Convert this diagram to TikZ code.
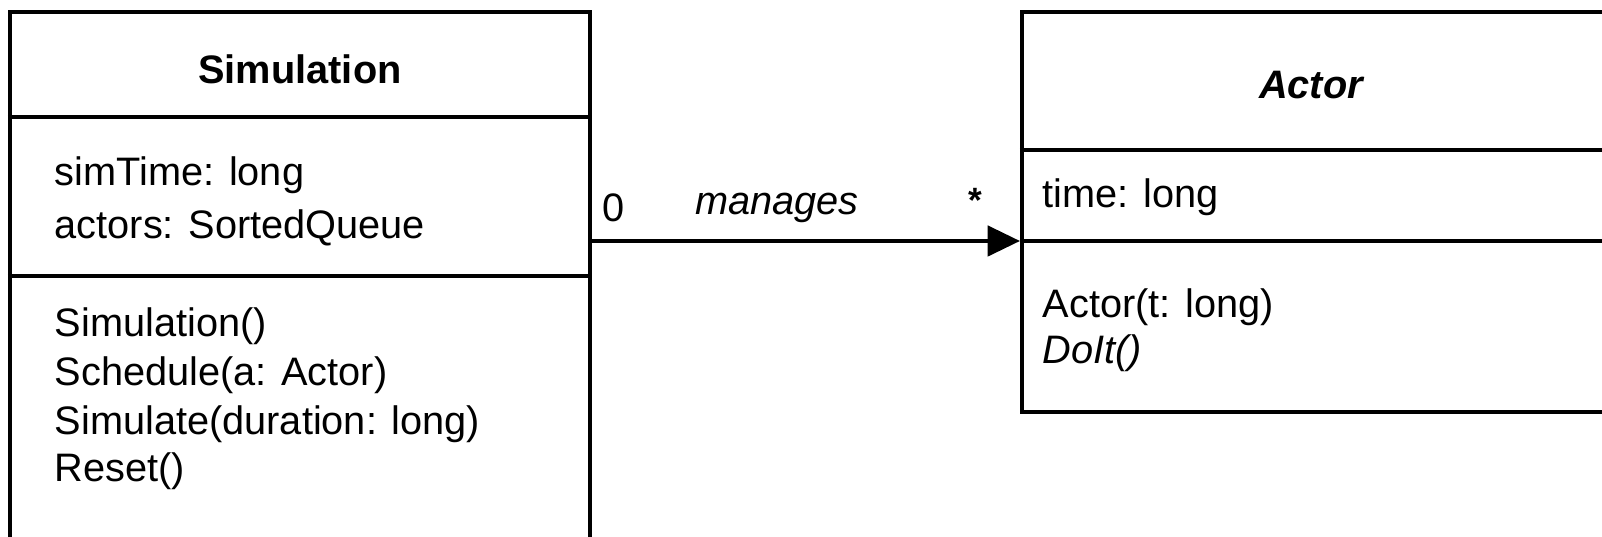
\documentclass[tikz,border=0pt]{standalone}
\usepackage{fontspec}
\setmainfont{Liberation Sans}
\usetikzlibrary{arrows.meta,fit}
\newcommand{\umlfont}{\fontsize{11.3}{13}\selectfont}
\begin{document}
\begin{tikzpicture}[x=0.01cm,y=-0.01cm,
  classbox/.style={draw, line width=1.15pt, inner sep=0pt},
  divider/.style={line width=1.15pt},
  member/.style={anchor=base west, inner sep=0pt, font=\umlfont},
  title/.style={anchor=base, inner sep=0pt, font=\umlfont\bfseries},
  assoc/.style={line width=1.15pt, -{Triangle[length=9.2pt,width=8.6pt]}},
  rolelabel/.style={anchor=base, inner sep=0pt, font=\umlfont}]
\useasboundingbox (0,0) rectangle (1602,537);
\clip (0,0) rectangle (1602,537);
\fill[white] (0,0) rectangle (1602,537);

% Simulation class
\coordinate (simNW) at (10,12);
\coordinate (simSE) at (590,620);
\node[classbox, fit=(simNW)(simSE)] (sim) {};
\coordinate (simD1) at (0,117);
\coordinate (simD2) at (0,276);
\draw[divider] (sim.west |- simD1) -- (sim.east |- simD1);
\draw[divider] (sim.west |- simD2) -- (sim.east |- simD2);
\node[title] (simTitle) at (300,84) {Simulation};
\node[member] (simA1) at (54,186) {simTime: long};
\node[member] (simA2) at (54,239) {actors: SortedQueue};
\node[member] (simM1) at (54,337) {Simulation()};
\node[member] (simM2) at (54,386) {Schedule(a: Actor)};
\node[member] (simM3) at (54,435) {Simulate(duration: long)};
\node[member] (simM4) at (54,482) {Reset()};

% Actor class
\coordinate (actNW) at (1022,12);
\coordinate (actSE) at (1700,412);
\node[classbox, fit=(actNW)(actSE)] (actor) {};
\coordinate (actD1) at (0,150);
\coordinate (actD2) at (0,241);
\draw[divider] (actor.west |- actD1) -- (actor.east |- actD1);
\draw[divider] (actor.west |- actD2) -- (actor.east |- actD2);
\node[title, font=\umlfont\bfseries\itshape] (actTitle) at (1311,99) {Actor};
\node[member] (actA1) at (1042,208) {time: long};
\node[member] (actM1) at (1042,318) {Actor(t: long)};
\node[member, font=\umlfont\itshape] (actM2) at (1042,364) {DoIt()};

% Association
\draw[assoc] (sim.east |- actD2) -- (actor.west |- actD2);
\node[rolelabel] (srcMult) at (614,222) {0};
\node[rolelabel, font=\umlfont\itshape] (assocName) at (777,215) {manages};
\node[inner sep=0pt, font=\fontsize{10}{12}\selectfont\bfseries] (dstMult) at (975,200) {*};
\end{tikzpicture}
\end{document}
